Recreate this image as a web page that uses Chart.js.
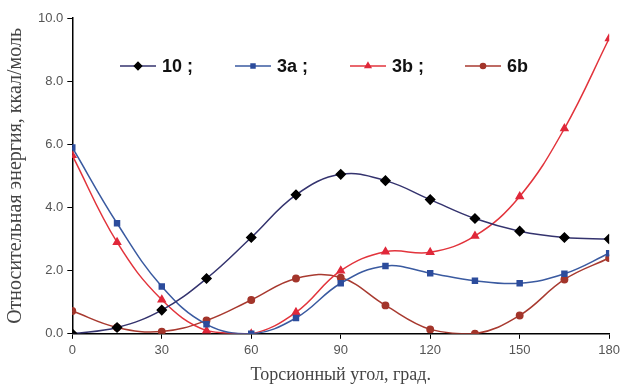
<!DOCTYPE html>
<html>
<head>
<meta charset="utf-8">
<script src="https://cdn.jsdelivr.net/npm/chart.js@4"></script>
<style>
  html, body { margin: 0; padding: 0; background: #fff; }
  #wrap { width: 624px; height: 390px; }
</style>
</head>
<body>
<div id="wrap"><canvas id="chart"></canvas></div>
<script>
// torsion angle, degrees
const angles = [0, 15, 30, 45, 60, 75, 90, 105, 120, 135, 150, 165, 180];

// relative energy, kcal/mol
const s10 = [0.0, 0.2, 0.75, 1.75, 3.05, 4.4, 5.05, 4.85, 4.25, 3.65, 3.25, 3.05, 3.0];
const s3a = [5.9, 3.5, 1.5, 0.3, 0.0, 0.5, 1.6, 2.15, 1.92, 1.68, 1.6, 1.9, 2.55];
const s3b = [5.65, 2.9, 1.08, 0.1, 0.0, 0.68, 2.0, 2.6, 2.58, 3.1, 4.35, 6.5, 9.35];
const s6b = [0.72, 0.2, 0.07, 0.42, 1.07, 1.75, 1.78, 0.9, 0.14, 0.0, 0.58, 1.72, 2.4];

const xTicks = [0, 30, 60, 90, 120, 150, 180];

const series = [
  { label: "10 ;", data: s10, line: "#34336e", point: "#000000", style: "rectRot", r: 4.5 },
  { label: "3a ;", data: s3a, line: "#3a5aa0", point: "#2c4c9c", style: "rect", r: 3.5 },
  { label: "3b ;", data: s3b, line: "#e2343c", point: "#e0283a", style: "triangle", r: 4 },
  { label: "6b",   data: s6b, line: "#a83a30", point: "#a3352b", style: "circle", r: 3.2 }
];

// legend drawn as one row: short line + marker + bold label
const rowLegend = {
  id: "rowLegend",
  afterDraw(chart) {
    const ctx = chart.ctx;
    const xs = [120, 235, 350, 465];
    const y = 66;
    ctx.save();
    series.forEach((s, i) => {
      const x = xs[i];
      ctx.strokeStyle = s.line;
      ctx.lineWidth = 1.5;
      ctx.beginPath();
      ctx.moveTo(x, y);
      ctx.lineTo(x + 36, y);
      ctx.stroke();
      ctx.fillStyle = s.point;
      ctx.strokeStyle = s.point;
      Chart.helpers.drawPoint(ctx, {
        pointStyle: s.style, radius: s.r * 0.8, borderWidth: 1
      }, x + 18, y);
      ctx.fillStyle = "#111";
      ctx.font = "bold 18px 'Liberation Sans', Arial, sans-serif";
      ctx.textBaseline = "middle";
      ctx.fillText(s.label, x + 42, y + 1);
    });
    ctx.restore();
  }
};

new Chart(document.getElementById("chart"), {
  type: "line",
  data: {
    datasets: series.map(s => ({
      label: s.label,
      data: angles.map((a, i) => ({ x: a, y: s.data[i] })),
      borderColor: s.line,
      borderWidth: 1.5,
      backgroundColor: s.point,
      pointBackgroundColor: s.point,
      pointBorderColor: s.point,
      pointStyle: s.style,
      pointRadius: s.r,
      tension: 0.4,
      fill: false
    }))
  },
  options: {
    responsive: true,
    maintainAspectRatio: false,
    animation: false,
    layout: { padding: { top: 18, right: 10, left: 4, bottom: 4 } },
    plugins: {
      legend: { display: false },
      tooltip: { enabled: false }
    },
    scales: {
      x: {
        type: "linear",
        min: 0,
        max: 180,
        afterBuildTicks: axis => { axis.ticks = xTicks.map(v => ({ value: v })); },
        grid: { drawOnChartArea: false, drawTicks: true, tickLength: 5, color: "#000" },
        border: { display: true, color: "#000", width: 1.5 },
        ticks: {
          color: "#555",
          font: { family: "'Liberation Sans', Arial, sans-serif", size: 13 },
          padding: 4
        },
        title: {
          display: true,
          text: "Торсионный угол, град.",
          color: "#444",
          font: { family: "'Liberation Serif', 'Times New Roman', serif", size: 18 },
          padding: { top: 2, bottom: 0 }
        }
      },
      y: {
        min: 0,
        max: 10,
        ticks: {
          stepSize: 2,
          color: "#555",
          font: { family: "'Liberation Sans', Arial, sans-serif", size: 13 },
          padding: 4,
          callback: v => v.toFixed(1)
        },
        grid: { drawOnChartArea: false, drawTicks: true, tickLength: 5, color: "#000" },
        border: { display: true, color: "#000", width: 1.5 },
        title: {
          display: true,
          text: "Относительная энергия, ккал/моль",
          color: "#444",
          font: { family: "'Liberation Serif', 'Times New Roman', serif", size: 20 },
          padding: { top: 0, bottom: 6 }
        }
      }
    }
  },
  plugins: [rowLegend]
});
</script>
</body>
</html>
